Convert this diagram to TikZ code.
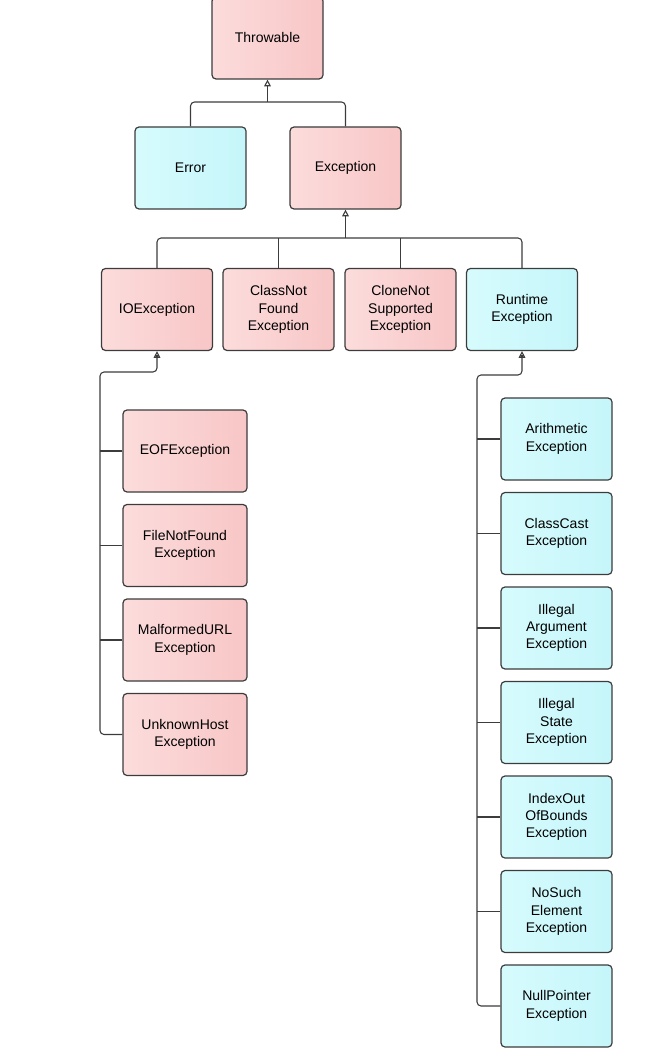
\documentclass[tikz,border=0pt]{standalone}
\usepackage{fontspec}
\setmainfont{Liberation Sans}
\usetikzlibrary{arrows.meta}
\definecolor{pinkL}{RGB}{252,220,220}
\definecolor{pinkR}{RGB}{248,198,198}
\definecolor{cyanL}{RGB}{214,251,253}
\definecolor{cyanR}{RGB}{198,246,250}
\definecolor{edge}{RGB}{60,60,60}
\tikzset{
  cls/.style={draw=edge, line width=0.9pt, rounded corners=3pt, align=center,
    minimum width=83.25pt, minimum height=61.5pt, inner sep=0pt,
    font=\fontsize{10.5}{13}\selectfont},
  chk/.style={cls, left color=pinkL, right color=pinkR},
  unchk/.style={cls, left color=cyanL, right color=cyanR},
  wide/.style={minimum width=93pt},
  link/.style={draw=edge, line width=0.8pt},
  inherit/.style={link, -{Triangle[open, length=5pt, width=5pt]}}
}
\begin{document}
\begin{tikzpicture}[x=0.75pt, y=-0.75pt]
\useasboundingbox (0,0) rectangle (649,1055);

% Top levels
\node[chk] (thr) at (267.5,38) {Throwable};
\node[unchk] (err) at (190.5,168) {Error};
\node[chk] (exc) at (345.5,168) {Exception};

\node[chk] (ioe) at (157,309.5) {IOException};
\node[chk] (cnf) at (278.5,309.5) {ClassNot\\Found\\Exception};
\node[chk] (cns) at (400.5,309.5) {CloneNot\\Supported\\Exception};
\node[unchk] (rte) at (522,309.5) {Runtime\\Exception};

% IOException subclasses
\foreach \name/\txt [count=\i from 0] in {eof/EOFException, fnf/{FileNotFound\\Exception},
    mal/{MalformedURL\\Exception}, unk/{UnknownHost\\Exception}} {
  \node[chk, wide] (\name) at (185,451+94.5*\i) {\txt};
}

% RuntimeException subclasses
\foreach \name/\txt [count=\i from 0] in {ari/{Arithmetic\\Exception}, cce/{ClassCast\\Exception},
    iae/{Illegal\\Argument\\Exception}, ise/{Illegal\\State\\Exception},
    iob/{IndexOut\\OfBounds\\Exception}, nse/{NoSuch\\Element\\Exception},
    npe/{NullPointer\\Exception}} {
  \node[unchk] (\name) at (556.5,439+94.5*\i) {\txt};
}

% Connectors
\coordinate (j1) at (267.5,102);
\draw[link, rounded corners=3pt] (err.north) |- (j1) -| (exc.north);
\draw[inherit] (j1) -- (thr.south);

\coordinate (j2) at (345.5,238);
\draw[link, rounded corners=3pt] (ioe.north) |- (j2) -| (rte.north);
\draw[link] (cnf.north) -- (cnf.north |- j2);
\draw[link] (cns.north) -- (cns.north |- j2);
\draw[inherit] (j2) -- (exc.south);

\coordinate (lbus) at (100,372);
\draw[link, rounded corners=3pt] (unk.west) -| (lbus) -| ([yshift=-3pt]ioe.south);
\draw[inherit] ([yshift=-3pt]ioe.south) -- (ioe.south);
\foreach \name in {eof,fnf,mal} {
  \draw[link] (\name.west) -- (\name.west -| lbus);
}

\coordinate (rbus) at (477,375);
\draw[link, rounded corners=3pt] (npe.west) -| (rbus) -| ([yshift=-3pt]rte.south);
\draw[inherit] ([yshift=-3pt]rte.south) -- (rte.south);
\foreach \name in {ari,cce,iae,ise,iob,nse} {
  \draw[link] (\name.west) -- (\name.west -| rbus);
}

\end{tikzpicture}
\end{document}
